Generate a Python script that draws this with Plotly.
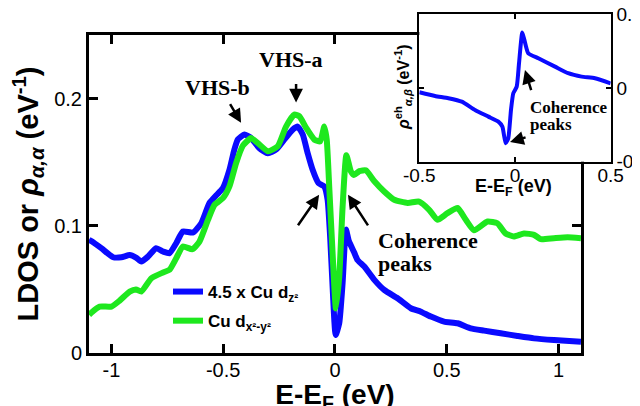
import plotly.graph_objects as go

# ---------------- data ----------------
blue_x = [-1.10, -1.09, -1.045, -0.992, -0.955, -0.918, -0.89, -0.866, -0.836, -0.80, -0.769, -0.74,
          -0.71, -0.68, -0.635, -0.598, -0.561, -0.531, -0.501, -0.472, -0.45, -0.434, -0.405, -0.375,
          -0.338, -0.30, -0.263, -0.226, -0.189, -0.167, -0.144, -0.122, -0.10, -0.074, -0.048, -0.033,
          -0.021, -0.010, 0.003, 0.019, 0.034, 0.049, 0.062, 0.086, 0.101, 0.131, 0.176, 0.22, 0.28,
          0.339, 0.384, 0.429, 0.488, 0.548, 0.607, 0.667, 0.741, 0.816, 0.89, 0.979, 1.10]
blue_y = [0.089, 0.088, 0.0824, 0.0753, 0.0753, 0.077, 0.075, 0.0719, 0.0758, 0.0824, 0.0798, 0.0785,
          0.0863, 0.0955, 0.0947, 0.102, 0.118, 0.124, 0.1297, 0.144, 0.160, 0.168, 0.1717, 0.169,
          0.161, 0.157, 0.160, 0.168, 0.1756, 0.178, 0.1717, 0.157, 0.144, 0.1336, 0.131, 0.1205,
          0.089, 0.0496, 0.0142, 0.0234, 0.055, 0.097, 0.088, 0.079, 0.073, 0.068, 0.0575, 0.0496, 0.043,
          0.0352, 0.0325, 0.0286, 0.0247, 0.0234, 0.0194, 0.0176, 0.0155, 0.0134, 0.0115, 0.0102, 0.0089]

green_x = [-1.10, -1.09, -1.052, -1.0, -0.963, -0.918, -0.89, -0.866, -0.821, -0.769, -0.74, -0.71,
           -0.68, -0.638, -0.606, -0.568, -0.539, -0.501, -0.472, -0.442, -0.412, -0.375, -0.345, -0.30,
           -0.256, -0.219, -0.182, -0.159, -0.129, -0.092, -0.066, -0.048, -0.037, -0.025, -0.010, 0.004,
           0.019, 0.034, 0.051, 0.071, 0.085, 0.109, 0.138, 0.176, 0.22, 0.265, 0.325, 0.376, 0.421,
           0.458, 0.503, 0.548, 0.585, 0.622, 0.682, 0.726, 0.763, 0.80, 0.845, 0.89, 0.92, 0.979, 1.04, 1.10]
green_y = [0.030, 0.0317, 0.0365, 0.0365, 0.0412, 0.0483, 0.050, 0.0483, 0.0588, 0.0633, 0.0654, 0.0745,
           0.0837, 0.0816, 0.0876, 0.1047, 0.1165, 0.1218, 0.131, 0.1494, 0.163, 0.169, 0.165, 0.1586,
           0.1625, 0.178, 0.1874, 0.186, 0.177, 0.1677, 0.1664, 0.178, 0.1677, 0.128, 0.0758, 0.035,
           0.060, 0.115, 0.1555, 0.1428, 0.140, 0.143, 0.1436, 0.135, 0.127, 0.1205, 0.118, 0.119, 0.1126,
           0.1047, 0.110, 0.114, 0.1047, 0.0965, 0.1034, 0.102, 0.094, 0.0916, 0.094, 0.0929, 0.0895, 0.0903, 0.091, 0.0903]

inset_x = [-0.50, -0.418, -0.348, -0.278, -0.209, -0.139, -0.087, -0.066, -0.049, -0.035, -0.021,
           -0.009, 0.009, 0.021, 0.038, 0.049, 0.069, 0.122, 0.209, 0.278, 0.348, 0.418, 0.50]
inset_y = [-0.006, -0.011, -0.014, -0.0187, -0.030, -0.039, -0.0458, -0.0525, -0.075, -0.068, -0.030,
           -0.0073, 0.0016, 0.0333, 0.0748, 0.0649, 0.0469, 0.040, 0.0287, 0.0198, 0.0152, 0.013, 0.006]

series_names = ["<b>4.5 x Cu d<sub>z²</sub></b>", "<b>Cu d<sub>x²-y²</sub></b>"]

main_xticks = [-1, -0.5, 0, 0.5, 1]
main_xticklabels = ["-1", "-0.5", "0", "0.5", "1"]
main_yticks = [0, 0.1, 0.2]
main_yticklabels = ["0", "0.1", "0.2"]
inset_xticks = [-0.5, 0, 0.5]
inset_xticklabels = ["-0.5", "0", "0.5"]
inset_yticks = [-0.1, 0, 0.1]
inset_yticklabels = ["-0.1", "0", "0.1"]

# ---------------- figure ----------------
BLUE = "#0a0aff"
GREEN = "#1ee81e"
SANS = "Arial, Liberation Sans, sans-serif"
SERIF = "Times New Roman, Liberation Serif, serif"

fig = go.Figure()
fig.add_trace(go.Scatter(x=blue_x, y=blue_y, mode="lines", name=series_names[0],
                         line=dict(color=BLUE, width=6, shape="spline", smoothing=0.5),
                         legendgroup="a", xaxis="x", yaxis="y"))
fig.add_trace(go.Scatter(x=green_x, y=green_y, mode="lines", name=series_names[1],
                         line=dict(color=GREEN, width=6, shape="spline", smoothing=0.5),
                         legendgroup="b", xaxis="x", yaxis="y"))
fig.add_trace(go.Scatter(x=inset_x, y=inset_y, mode="lines", showlegend=False,
                         line=dict(color=BLUE, width=4, shape="spline", smoothing=0.5),
                         xaxis="x2", yaxis="y2"))

main_axis = dict(showline=True, linewidth=3, linecolor="black", mirror="ticks",
                 ticks="inside", ticklen=9, tickwidth=2.5, tickcolor="black",
                 showgrid=False, zeroline=False, automargin=False,
                 tickfont=dict(family=SANS, size=20, color="black"))
inset_axis = dict(showline=True, linewidth=2, linecolor="black", mirror="ticks",
                  ticks="inside", ticklen=5, tickwidth=2, tickcolor="black",
                  showgrid=False, zeroline=False, automargin=False,
                  tickfont=dict(family=SANS, size=19, color="black"))

fig.update_layout(
    width=640, height=406,
    margin=dict(l=81, r=37, t=6, b=61),
    paper_bgcolor="white", plot_bgcolor="white",
    xaxis=dict(main_axis, domain=[0, 0.9425], range=[-1.1, 1.1], anchor="y",
               tickvals=main_xticks, ticktext=main_xticklabels, ticklabelstandoff=-3,
               title=dict(text="<b>E-E<sub>F</sub> (eV)</b>", standoff=5,
                          font=dict(family=SANS, size=28, color="black"))),
    yaxis=dict(main_axis, domain=[0, 0.938], range=[0, 0.25], anchor="x",
               tickvals=main_yticks, ticktext=main_yticklabels,
               title=dict(text="<b>LDOS or <i>ρ</i><sub><i>α,α</i></sub> (eV<sup>-1</sup>)</b>", standoff=13,
                          font=dict(family=SANS, size=29, color="black"))),
    xaxis2=dict(inset_axis, domain=[0.6328, 0.9994], range=[-0.5, 0.5], anchor="y2",
                tickvals=inset_xticks, ticktext=inset_xticklabels, ticklabelstandoff=-5),
    yaxis2=dict(inset_axis, domain=[0.5643, 1.0], range=[-0.1, 0.1], anchor="x2", side="right",
                tickvals=inset_yticks, ticktext=inset_yticklabels, ticklabeloverflow="allow"),
    legend=dict(x=0.1513, y=0.233, xanchor="left", yanchor="top", bgcolor="rgba(0,0,0,0)",
                font=dict(family=SANS, size=17, color="black"), tracegroupgap=4,
                itemwidth=30),
    showlegend=True,
)
# inset axis titles
fig.add_annotation(text="<b><i>ρ</i><sup>eh</sup><sub><i>α,β</i></sub> (eV<sup>-1</sup>)</b>",
                   xref="x2 domain", yref="y2 domain", x=-0.085, y=0.5, textangle=-90,
                   xanchor="center", yanchor="middle", showarrow=False,
                   font=dict(family=SANS, size=16, color="black"))
fig.add_annotation(text="<b>E-E<sub>F</sub> (eV)</b>",
                   xref="x2 domain", yref="y2 domain", x=0.49, y=-0.175,
                   xanchor="center", yanchor="middle", showarrow=False,
                   font=dict(family=SANS, size=18, color="black"))

label_font = dict(family=SERIF, size=22, color="black")
# text labels (main)
fig.add_annotation(text="<b>VHS-b</b>", x=-0.527, y=0.209, xref="x", yref="y", showarrow=False, font=label_font)
fig.add_annotation(text="<b>VHS-a</b>", x=-0.196, y=0.2307, xref="x", yref="y", showarrow=False, font=label_font)
fig.add_annotation(text="<b>Coherence</b>", x=0.185, y=0.0885, xref="x", yref="y", xanchor="left",
                   showarrow=False, font=label_font)
fig.add_annotation(text="<b>peaks</b>", x=0.185, y=0.0705, xref="x", yref="y", xanchor="left",
                   showarrow=False, font=label_font)

# arrows (main)
arrows_main = [((-0.473, 0.1969), (-0.42, 0.181)),
               ((-0.174, 0.2126), (-0.174, 0.197)),
               ((-0.170, 0.0992), (-0.071, 0.1244)),
               ((0.152, 0.0992), (0.058, 0.1244))]
for (tx, ty), (hx, hy) in arrows_main:
    fig.add_annotation(text="", x=hx, y=hy, ax=tx, ay=ty, xref="x", yref="y", axref="x", ayref="y",
                       showarrow=True, arrowhead=2, arrowsize=1.1, arrowwidth=2.5, arrowcolor="black")

# inset labels
inset_font = dict(family=SERIF, size=17, color="black")
fig.add_annotation(text="<b>Coherence</b>", x=0.0695, y=-0.0272, xref="x2", yref="y2", xanchor="left",
                   showarrow=False, font=inset_font)
fig.add_annotation(text="<b>peaks</b>", x=0.0695, y=-0.0502, xref="x2", yref="y2", xanchor="left",
                   showarrow=False, font=inset_font)
arrows_inset = [((0.087, -0.0051), (0.052, 0.0242)),
                ((0.063, -0.0665), (-0.026, -0.0733))]
for (tx, ty), (hx, hy) in arrows_inset:
    fig.add_annotation(text="", x=hx, y=hy, ax=tx, ay=ty, xref="x2", yref="y2", axref="x2", ayref="y2",
                       showarrow=True, arrowhead=2, arrowsize=1.1, arrowwidth=2.5, arrowcolor="black")

fig.write_html("out.html")
